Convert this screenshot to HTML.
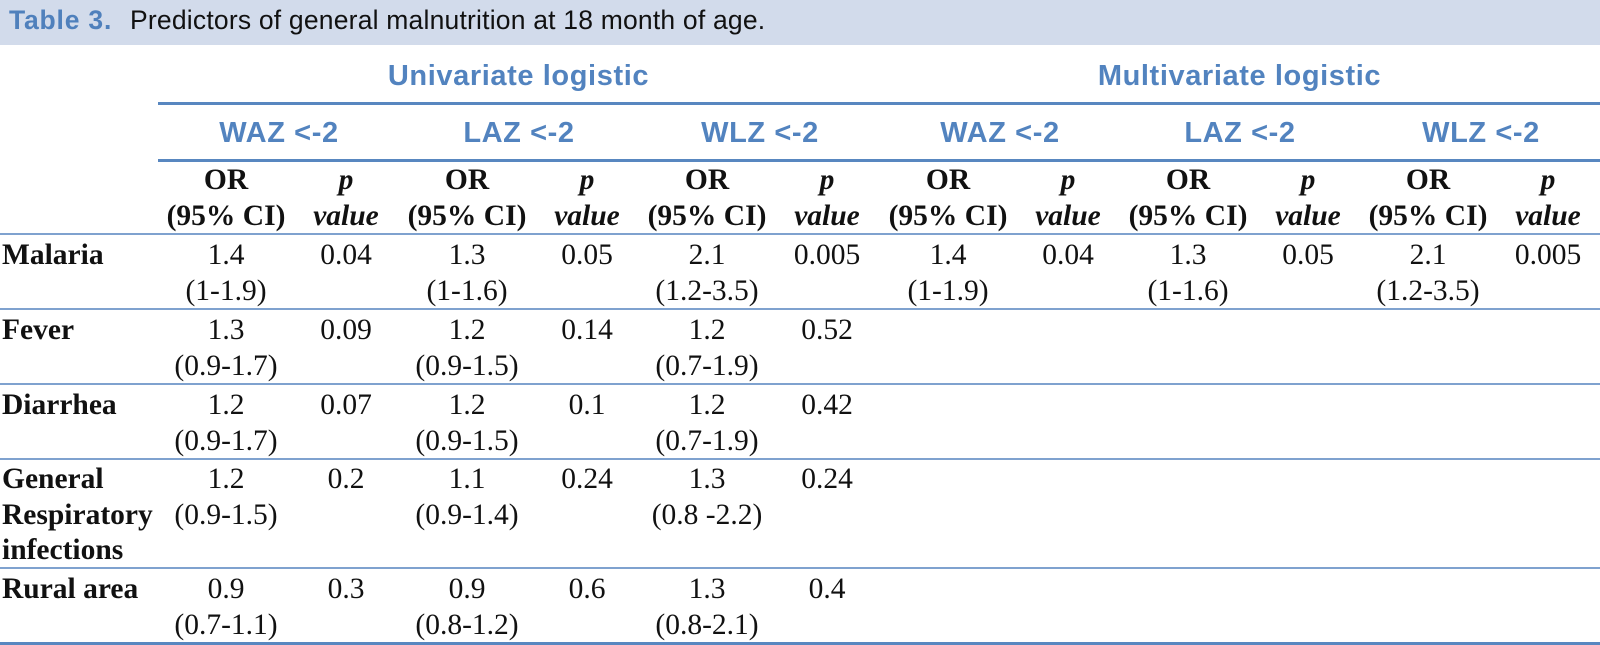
<!DOCTYPE html>
<html>
<head>
<meta charset="utf-8">
<style>
  html, body { margin:0; padding:0; }
  body { width:1600px; height:645px; position:relative; overflow:hidden; background:#fff; }
  .bar { position:absolute; left:0; top:0; width:1600px; height:45px; background:#d2dbeb; }
  .t { position:absolute; white-space:nowrap; }
  .title { top:1px; line-height:38px; font-family:"Liberation Sans", sans-serif; font-size:26.5px; }
  .tb { color:#4f80bc; font-weight:bold; letter-spacing:0.8px; left:9px; }
  .tr { color:#111; left:130px; letter-spacing:0.2px; }
  .hd { font-family:"Liberation Sans", sans-serif; font-weight:bold; font-size:29px; line-height:32px; color:#5283bf; text-align:center; letter-spacing:0.6px; }
  .ln { position:absolute; }
  .thick { height:3px; background:#5887c0; }
  .thin { height:2px; background:#7fa2cf; }
  .c { position:absolute; width:140px; text-align:center; font-family:"Liberation Serif", serif; font-size:29.5px; line-height:35.5px; color:#111; white-space:nowrap; }
  .hb { font-weight:bold; }
  .hi { font-weight:bold; font-style:italic; }
  .rl { position:absolute; left:2px; font-family:"Liberation Serif", serif; font-weight:bold; font-size:29.5px; line-height:35.5px; color:#111; white-space:nowrap; }
</style>
</head>
<body>
<div class="bar"></div>
<div class="t title tb">Table 3.</div>
<div class="t title tr">Predictors of general malnutrition at 18 month of age.</div>

<div class="t hd" style="left:158px;width:721px;top:60px;">Univariate logistic</div>
<div class="t hd" style="left:879px;width:721px;top:60px;">Multivariate logistic</div>

<div class="ln thick" style="left:158px;top:102px;width:1442px;"></div>

<div class="t hd" style="left:179px;width:200px;top:117px;">WAZ &lt;-2</div>
<div class="t hd" style="left:419px;width:200px;top:117px;">LAZ &lt;-2</div>
<div class="t hd" style="left:660px;width:200px;top:117px;">WLZ &lt;-2</div>
<div class="t hd" style="left:900px;width:200px;top:117px;">WAZ &lt;-2</div>
<div class="t hd" style="left:1140px;width:200px;top:117px;">LAZ &lt;-2</div>
<div class="t hd" style="left:1381px;width:200px;top:117px;">WLZ &lt;-2</div>

<div class="ln thick" style="left:158px;top:159px;width:1442px;"></div>

<div class="c hb" style="left:156px;top:163px;">OR<br>(95% CI)</div>
<div class="c hi" style="left:276px;top:163px;">p<br>value</div>
<div class="c hb" style="left:397px;top:163px;">OR<br>(95% CI)</div>
<div class="c hi" style="left:517px;top:163px;">p<br>value</div>
<div class="c hb" style="left:637px;top:163px;">OR<br>(95% CI)</div>
<div class="c hi" style="left:757px;top:163px;">p<br>value</div>
<div class="c hb" style="left:878px;top:163px;">OR<br>(95% CI)</div>
<div class="c hi" style="left:998px;top:163px;">p<br>value</div>
<div class="c hb" style="left:1118px;top:163px;">OR<br>(95% CI)</div>
<div class="c hi" style="left:1238px;top:163px;">p<br>value</div>
<div class="c hb" style="left:1358px;top:163px;">OR<br>(95% CI)</div>
<div class="c hi" style="left:1478px;top:163px;">p<br>value</div>

<div class="ln thin" style="left:0;top:233px;width:1600px;"></div>

<div class="rl" style="top:238px;">Malaria</div>
<div class="c" style="left:156px;top:238px;">1.4<br>(1-1.9)</div>
<div class="c" style="left:276px;top:238px;">0.04</div>
<div class="c" style="left:397px;top:238px;">1.3<br>(1-1.6)</div>
<div class="c" style="left:517px;top:238px;">0.05</div>
<div class="c" style="left:637px;top:238px;">2.1<br>(1.2-3.5)</div>
<div class="c" style="left:757px;top:238px;">0.005</div>
<div class="c" style="left:878px;top:238px;">1.4<br>(1-1.9)</div>
<div class="c" style="left:998px;top:238px;">0.04</div>
<div class="c" style="left:1118px;top:238px;">1.3<br>(1-1.6)</div>
<div class="c" style="left:1238px;top:238px;">0.05</div>
<div class="c" style="left:1358px;top:238px;">2.1<br>(1.2-3.5)</div>
<div class="c" style="left:1478px;top:238px;">0.005</div>

<div class="ln thin" style="left:0;top:308px;width:1600px;"></div>

<div class="rl" style="top:313px;">Fever</div>
<div class="c" style="left:156px;top:313px;">1.3<br>(0.9-1.7)</div>
<div class="c" style="left:276px;top:313px;">0.09</div>
<div class="c" style="left:397px;top:313px;">1.2<br>(0.9-1.5)</div>
<div class="c" style="left:517px;top:313px;">0.14</div>
<div class="c" style="left:637px;top:313px;">1.2<br>(0.7-1.9)</div>
<div class="c" style="left:757px;top:313px;">0.52</div>

<div class="ln thin" style="left:0;top:383px;width:1600px;"></div>

<div class="rl" style="top:388px;">Diarrhea</div>
<div class="c" style="left:156px;top:388px;">1.2<br>(0.9-1.7)</div>
<div class="c" style="left:276px;top:388px;">0.07</div>
<div class="c" style="left:397px;top:388px;">1.2<br>(0.9-1.5)</div>
<div class="c" style="left:517px;top:388px;">0.1</div>
<div class="c" style="left:637px;top:388px;">1.2<br>(0.7-1.9)</div>
<div class="c" style="left:757px;top:388px;">0.42</div>

<div class="ln thin" style="left:0;top:458px;width:1600px;"></div>

<div class="rl" style="top:462px;">General<br>Respiratory<br>infections</div>
<div class="c" style="left:156px;top:462px;">1.2<br>(0.9-1.5)</div>
<div class="c" style="left:276px;top:462px;">0.2</div>
<div class="c" style="left:397px;top:462px;">1.1<br>(0.9-1.4)</div>
<div class="c" style="left:517px;top:462px;">0.24</div>
<div class="c" style="left:637px;top:462px;">1.3<br>(0.8 -2.2)</div>
<div class="c" style="left:757px;top:462px;">0.24</div>

<div class="ln thin" style="left:0;top:567px;width:1600px;"></div>

<div class="rl" style="top:572px;">Rural area</div>
<div class="c" style="left:156px;top:572px;">0.9<br>(0.7-1.1)</div>
<div class="c" style="left:276px;top:572px;">0.3</div>
<div class="c" style="left:397px;top:572px;">0.9<br>(0.8-1.2)</div>
<div class="c" style="left:517px;top:572px;">0.6</div>
<div class="c" style="left:637px;top:572px;">1.3<br>(0.8-2.1)</div>
<div class="c" style="left:757px;top:572px;">0.4</div>

<div class="ln thick" style="left:0;top:642px;width:1600px;"></div>
</body>
</html>
